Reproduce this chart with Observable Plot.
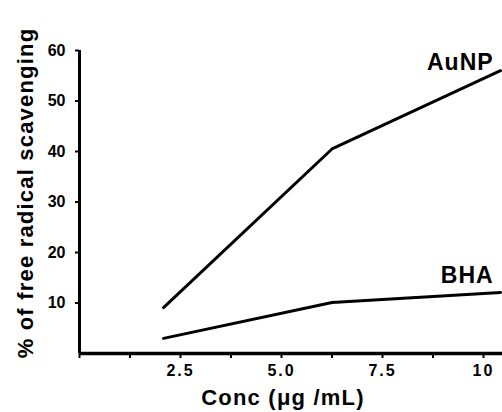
<!DOCTYPE html>
<html>
<head>
<meta charset="utf-8">
<script src="https://cdn.jsdelivr.net/npm/d3@7"></script>
<script src="https://cdn.jsdelivr.net/npm/@observablehq/plot@0.6"></script>
<style>
  html, body { margin: 0; padding: 0; background: white; }
  g[aria-label="x-axis tick label"] text { letter-spacing: 2px; }
</style>
</head>
<body>
<div id="chart"></div>
<script>
// ---- data ----
const conc = [2.08, 6.25, 10.42];
const aunp = [9.1, 40.5, 56.0];
const bha = [3.0, 10.1, 12.1];
const seriesNames = ["AuNP", "BHA"];
const labelX = [10.25, 10.25];
const labelY = [57.6, 15.4];
const yTicks = [10, 20, 30, 40, 50, 60];
const xTicks = [0, 1.25, 2.5, 3.75, 5, 6.25, 7.5, 8.75, 10];
const xTickLabels = ["", "", "2.5", "", "5.0", "", "7.5", "", "10"];
const xTitle = "Conc (\u03bcg /mL)";
const yTitle = "% of free radical scavenging";

// ---- build tables ----
const rows = [];
conc.forEach((c, i) => {
  rows.push({series: seriesNames[0], x: c, y: aunp[i]});
  rows.push({series: seriesNames[1], x: c, y: bha[i]});
});
const labels = seriesNames.map((s, i) => ({text: s, x: labelX[i], y: labelY[i]}));
const tickLabelMap = new Map(xTicks.map((t, i) => [t, xTickLabels[i]]));

const chart = Plot.plot({
  width: 502,
  height: 412,
  marginLeft: 79,
  marginRight: 0,
  marginTop: 50,
  marginBottom: 59,
  x: {domain: [0, 10.47]},
  y: {domain: [0, 60]},
  style: {fontFamily: "'Liberation Sans', Arial, sans-serif", background: "white", color: "black"},
  marks: [
    Plot.axisY({ticks: yTicks, tickSize: 4, tickPadding: 10, fontSize: 16, fontWeight: "bold", label: null, strokeWidth: 2}),
    Plot.axisX({ticks: xTicks, tickSize: 5, tickPadding: 6, fontSize: 16, fontWeight: "bold", label: null, strokeWidth: 2,
      tickFormat: d => tickLabelMap.get(d) ?? ""}),
    Plot.ruleX([0], {y1: 0, y2: 60, strokeWidth: 3, stroke: "black"}),
    Plot.ruleY([0], {strokeWidth: 3.5, stroke: "black"}),
    Plot.line(rows, {x: "x", y: "y", z: "series", stroke: "black", strokeWidth: 3}),
    Plot.text(labels, {x: "x", y: "y", text: "text", textAnchor: "end", fontSize: 23, fontWeight: "bold"}),
    Plot.text([xTitle], {text: d => d, frameAnchor: "bottom", textAnchor: "middle", lineAnchor: "middle", dy: 44, dx: -8, fontSize: 22, fontWeight: "bold"}),
    Plot.text([yTitle], {text: d => d, frameAnchor: "left", textAnchor: "middle", lineAnchor: "middle", rotate: -90, dx: -54, dy: -9, fontSize: 22, fontWeight: "bold"})
  ]
});
d3.select(chart).selectAll("text").each(function() {
  const t = this.textContent;
  if (t === xTitle || t === yTitle) this.style.letterSpacing = "1.2px";
  if (seriesNames.includes(t)) this.style.letterSpacing = "1px";
});
document.getElementById("chart").appendChild(chart);
</script>
</body>
</html>
